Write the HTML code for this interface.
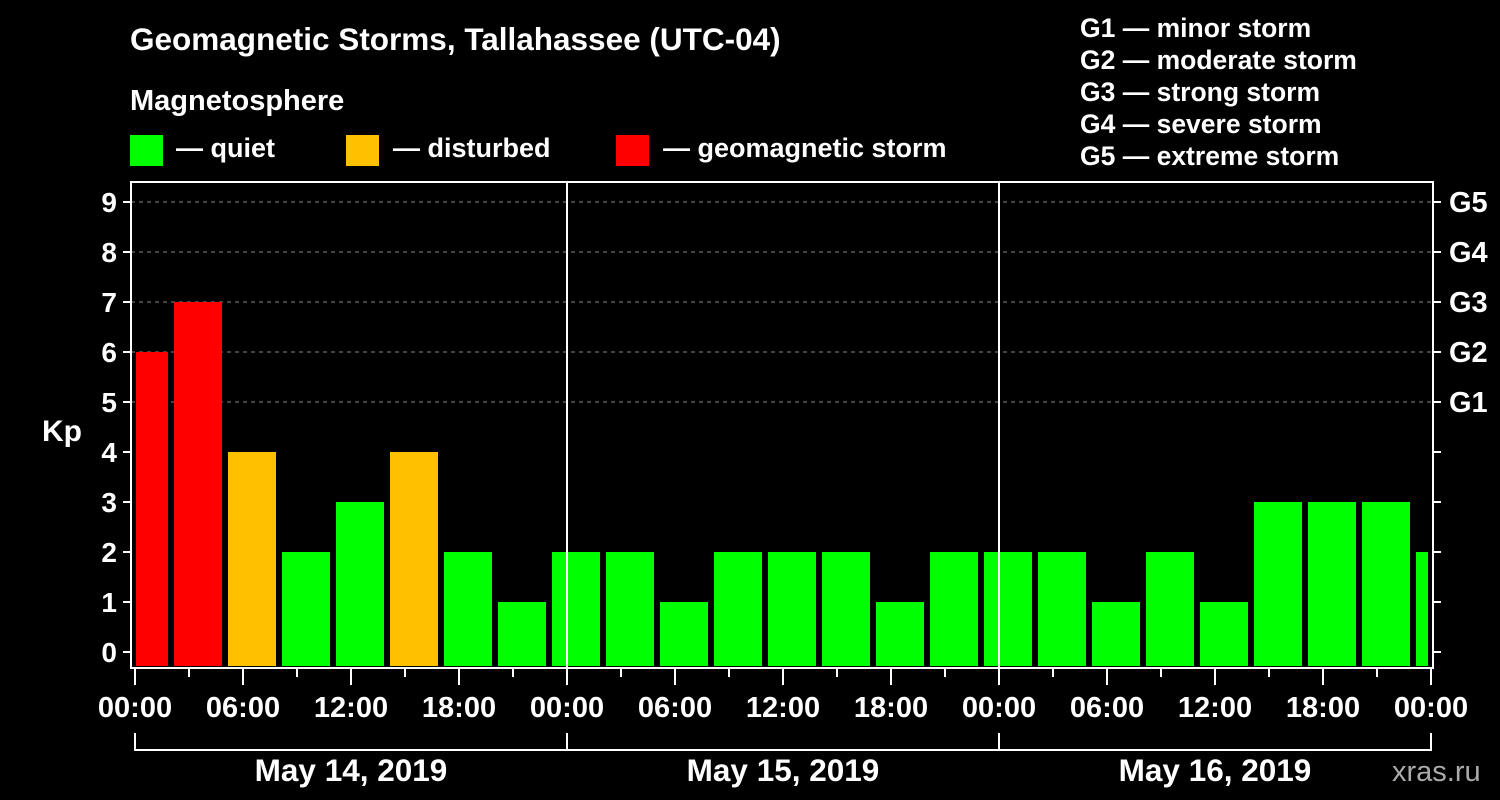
<!DOCTYPE html>
<html><head><meta charset="utf-8"><style>
html,body{margin:0;background:#000;width:1500px;height:800px;overflow:hidden}
svg{display:block;font-family:"Liberation Sans",sans-serif;font-weight:bold;fill:#fff}
</style></head><body>
<svg id="c" width="1500" height="800">
<text x="130" y="50" font-size="31.5">Geomagnetic Storms, Tallahassee (UTC-04)</text>
<text x="130" y="110" font-size="29">Magnetosphere</text>
<rect x="130" y="135" width="33" height="31" fill="#00ff00"/>
<text x="176" y="157" font-size="27">— quiet</text>
<rect x="346" y="135" width="33" height="31" fill="#ffc000"/>
<text x="393" y="157" font-size="27">— disturbed</text>
<rect x="616" y="135" width="33" height="31" fill="#ff0000"/>
<text x="663" y="157" font-size="27">— geomagnetic storm</text>
<g font-size="26.5">
<text x="1080" y="37">G1 — minor storm</text>
<text x="1080" y="69">G2 — moderate storm</text>
<text x="1080" y="101">G3 — strong storm</text>
<text x="1080" y="133">G4 — severe storm</text>
<text x="1080" y="165">G5 — extreme storm</text>
</g>
<text x="42" y="441" font-size="30">Kp</text>
<text x="1392" y="781" font-size="29" style="fill:#aaa;font-weight:normal">xras.ru</text>
<g id="plot"></g>
</svg>
<script>
const values=[6,7,4,2,3,4,2,1,2,2,1,2,2,2,1,2,2,2,1,2,1,3,3,3,2];
const yTicks=[0,1,2,3,4,5,6,7,8,9];
const gLabels=["G1","G2","G3","G4","G5"];
const xLabels=["00:00","06:00","12:00","18:00","00:00","06:00","12:00","18:00","00:00","06:00","12:00","18:00","00:00"];
const days=["May 14, 2019","May 15, 2019","May 16, 2019"];
const NS="http://www.w3.org/2000/svg";
const L=131,R=1433,T=182,B=668,X0=135,X1=1431;
const y=v=>652-v*50;
const xh=h=>X0+(X1-X0)*h/72;
const g=document.getElementById('plot');
function mk(t,a,txt){const e=document.createElementNS(NS,t);for(const k in a)e.setAttribute(k,a[k]);if(txt!=null)e.textContent=txt;g.appendChild(e);return e;}
yTicks.forEach(v=>{if(v>=5){const e=mk('line',{x1:L,x2:R,y1:y(v),y2:y(v),stroke:'#888','stroke-dasharray':'4,4','stroke-width':1});

}});
const clip=mk('clipPath',{id:'pc'});const cr=document.createElementNS(NS,'rect');cr.setAttribute('x',L+5);cr.setAttribute('y',T);cr.setAttribute('width',R-L-10);cr.setAttribute('height',B-T-1);clip.appendChild(cr);
values.forEach((v,i)=>{const c=v>=5?'#ff0000':v>=4?'#ffc000':'#00ff00';
const x=xh(3*i)-15;
const e=mk('rect',{x:x,y:y(v),width:48,height:B-2-y(v),fill:c,'clip-path':'url(#pc)'});

});
[24,48].forEach(h=>{const e=mk('line',{x1:xh(h),x2:xh(h),y1:T,y2:B,stroke:'#fff','stroke-width':2});

});
const f=mk('rect',{x:L,y:T,width:R-L,height:B-T,fill:'none',stroke:'#fff','stroke-width':2});


yTicks.forEach(v=>{mk('line',{x1:L-8,x2:L,y1:y(v),y2:y(v),stroke:'#fff','stroke-width':2});
mk('line',{x1:R,x2:R+8,y1:y(v),y2:y(v),stroke:'#fff','stroke-width':2});
const t=mk('text',{x:117,y:y(v)+10,'font-size':28,'text-anchor':'end'},v);

});
gLabels.forEach((s,i)=>{const t=mk('text',{x:1449,y:y(5+i)+10,'font-size':29},s);

});
for(let h=0;h<=72;h+=3){const major=h%6===0;mk('line',{x1:xh(h),x2:xh(h),y1:B,y2:B+(major?17:9),stroke:'#fff','stroke-width':2});}
xLabels.forEach((s,i)=>{const t=mk('text',{x:xh(6*i),y:717,'font-size':29,'text-anchor':'middle'},s);

});
mk('path',{d:`M${X0} 733V750H${X1}V733M${xh(24)} 733V750M${xh(48)} 733V750`,stroke:'#fff','stroke-width':2,fill:'none'});
days.forEach((s,i)=>{const t=mk('text',{x:xh(24*i+12),y:781,'font-size':31.5,'text-anchor':'middle'},s);

});
</script>
</body></html>
